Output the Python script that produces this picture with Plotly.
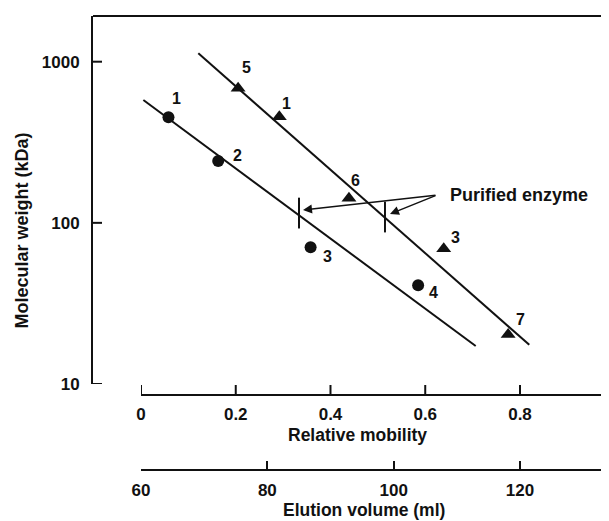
import numpy as np
import plotly.graph_objects as go

# ---------------- data ----------------
circle_mobility = [0.058, 0.163, 0.358, 0.585]
circle_mw = [452, 242, 70.5, 41]
circle_labels = ["1", "2", "3", "4"]

tri_mobility = [0.205, 0.292, 0.439, 0.639, 0.775]
tri_mw = [684, 456, 142, 69, 20.3]
tri_labels = ["5", "1", "6", "3", "7"]

fit_low_mobility = [0.005, 0.7065]
fit_low_mw = [578, 17.2]
fit_high_mobility = [0.121, 0.8196]
fit_high_mw = [1128, 17.5]

purified_mobility = [0.3335, 0.515]
purified_mw = [115, 108.7]
purified_label = "Purified enzyme"
purified_text_mobility = 0.648
purified_text_mw = 149
arrow_tail_mobility = 0.6248
arrow_tail_mw = 148.9
arrow_head_mobility = [0.342, 0.5256]
arrow_head_mw = [120.2, 113.5]

y_tickvals = [10, 100, 1000]
y_ticktext = ["10", "100", "1000"]
mob_tickvals = [0, 0.2, 0.4, 0.6, 0.8]
mob_ticktext = ["0", "0.2", "0.4", "0.6", "0.8"]
elu_tickvals = [60, 80, 100, 120]
elu_ticktext = ["60", "80", "100", "120"]

y_title = "Molecular weight (kDa)"
x_title = "Relative mobility"
x2_title = "Elution volume (ml)"

# ---------------- style ----------------
circle_shift = [(8, 19), (19, 6), (17, -9), (15, -7)]
tri_shift = [(8, 21), (7, 13), (7, 18), (12, 11), (12, 15)]

FONT = "Liberation Sans, Arial, Helvetica, sans-serif"
INK = "#111111"

FIG_W, FIG_H = 601, 513
MARGIN = dict(l=85, r=0, t=8, b=52, pad=0)
PLOT_W = FIG_W - MARGIN["l"] - MARGIN["r"]
X_RANGE = [-0.1013, 0.9879]
MOB_RANGE = [0, 0.9879]
Y_TICK_PX = 9

fig = go.Figure()

fig.add_trace(go.Scatter(x=fit_low_mobility, y=fit_low_mw, mode="lines",
                         line=dict(color=INK, width=2), showlegend=False, hoverinfo="skip"))
fig.add_trace(go.Scatter(x=fit_high_mobility, y=fit_high_mw, mode="lines",
                         line=dict(color=INK, width=2), showlegend=False, hoverinfo="skip"))
fig.add_trace(go.Scatter(x=circle_mobility, y=circle_mw, mode="markers",
                         marker=dict(symbol="circle", size=12, color=INK), showlegend=False))
fig.add_trace(go.Scatter(x=tri_mobility, y=tri_mw, mode="markers",
                         marker=dict(symbol="triangle-up", size=13, color=INK), showlegend=False))
fig.add_trace(go.Scatter(x=purified_mobility, y=purified_mw, mode="markers",
                         marker=dict(symbol="line-ns-open", size=22, color=INK,
                                     line=dict(color=INK, width=2)), showlegend=False))

# inward tick marks of the molecular-weight axis (drawn from the tick values)
x_tick_lo = X_RANGE[0]
x_tick_hi = X_RANGE[0] + Y_TICK_PX * (X_RANGE[1] - X_RANGE[0]) / PLOT_W
ytick_x, ytick_y = [], []
for v in y_tickvals:
    ytick_x += [x_tick_lo, x_tick_hi, None]
    ytick_y += [v, v, None]
fig.add_trace(go.Scatter(x=ytick_x, y=ytick_y, mode="lines", line=dict(color=INK, width=2),
                         showlegend=False, hoverinfo="skip"))

# upward tick marks of the relative-mobility axis (inside its own thin strip)
mtick_x, mtick_y = [], []
for v in mob_tickvals:
    mtick_x += [v, v, None]
    mtick_y += [0, 1, None]
fig.add_trace(go.Scatter(x=mtick_x, y=mtick_y, mode="lines", line=dict(color=INK, width=2),
                         xaxis="x2", yaxis="y2", showlegend=False, hoverinfo="skip"))

# empty trace registering the elution-volume subplot
fig.add_trace(go.Scatter(x=[], y=[], xaxis="x3", yaxis="y3", showlegend=False))

lab_font = dict(size=16, color=INK, family=FONT, weight="bold")
annotations = []
for m, w, t, (dx, dy) in zip(circle_mobility, circle_mw, circle_labels, circle_shift):
    annotations.append(dict(x=m, y=np.log10(w), xref="x", yref="y", text=t, showarrow=False,
                            xanchor="center", yanchor="middle", xshift=dx, yshift=dy, font=lab_font))
for m, w, t, (dx, dy) in zip(tri_mobility, tri_mw, tri_labels, tri_shift):
    annotations.append(dict(x=m, y=np.log10(w), xref="x", yref="y", text=t, showarrow=False,
                            xanchor="center", yanchor="middle", xshift=dx, yshift=dy, font=lab_font))

annotations.append(dict(x=purified_text_mobility, y=np.log10(purified_text_mw), xref="x", yref="y",
                        text=purified_label, showarrow=False, xanchor="left", yanchor="middle",
                        font=dict(size=18, color=INK, family=FONT, weight="bold")))
for hm, hw in zip(arrow_head_mobility, arrow_head_mw):
    annotations.append(dict(x=hm, y=np.log10(hw), xref="x", yref="y", text="",
                            showarrow=True, ax=arrow_tail_mobility, ay=np.log10(arrow_tail_mw),
                            axref="x", ayref="y", arrowhead=2, arrowsize=1.2, arrowwidth=1.5,
                            arrowcolor=INK, standoff=0, startstandoff=0))

title_font = dict(size=17.5, color=INK, family=FONT, weight="bold")
annotations.append(dict(x=-0.1357, y=0.5265, xref="paper", yref="paper", text=y_title,
                        textangle=-90, showarrow=False, xanchor="center", yanchor="middle",
                        font=dict(size=18, color=INK, family=FONT, weight="bold")))
annotations.append(dict(x=0.5126, y=0.0751, xref="paper", yref="paper", text=x_title,
                        showarrow=False, xanchor="center", yanchor="middle", font=title_font))
annotations.append(dict(x=0.5258, y=-0.0905, xref="paper", yref="paper", text=x2_title,
                        showarrow=False, xanchor="center", yanchor="middle", font=title_font))

tickfont = dict(size=17, color=INK, family=FONT, weight="bold")
hidden_axis = dict(showline=False, showticklabels=False, ticks="", showgrid=False,
                   zeroline=False, fixedrange=True)
label_axis = dict(showline=True, linewidth=2, linecolor=INK, ticks="", tickfont=tickfont,
                  showgrid=False, zeroline=False, fixedrange=True)

fig.update_layout(
    width=FIG_W, height=FIG_H,
    margin=MARGIN,
    paper_bgcolor="white", plot_bgcolor="rgba(0,0,0,0)",
    font=dict(family=FONT, color=INK),
    showlegend=False,
    xaxis=dict(domain=[0, 1], range=X_RANGE, anchor="y", **hidden_axis),
    yaxis=dict(type="log", domain=[0.18764, 1], range=[1, 3.2836], anchor="x",
               tickvals=y_tickvals, ticktext=y_ticktext, ticklabelstandoff=8, **label_axis),
    xaxis2=dict(domain=[0.09302, 1], range=MOB_RANGE, anchor="y2", side="bottom",
                tickvals=mob_tickvals, ticktext=mob_ticktext, ticklabelstandoff=4,
                **label_axis),
    yaxis2=dict(domain=[0.16556, 0.18543], range=[0, 1], anchor="x2", **hidden_axis),
    xaxis3=dict(domain=[0.09302, 1], range=[60, 134.09], anchor="y3", side="bottom",
                tickvals=elu_tickvals, ticktext=elu_ticktext, ticklabelstandoff=5,
                showline=True, linewidth=2, linecolor=INK, ticks="inside", tickwidth=2,
                ticklen=8, tickcolor=INK, tickfont=tickfont, showgrid=False,
                zeroline=False, fixedrange=True),
    yaxis3=dict(domain=[0, 0.01], range=[0, 1], anchor="x3", **hidden_axis),
    annotations=annotations,
    shapes=[dict(type="line", xref="paper", yref="paper", x0=0, x1=1, y0=1, y1=1,
                 line=dict(color=INK, width=2))],
)

fig.write_html("out.html")
